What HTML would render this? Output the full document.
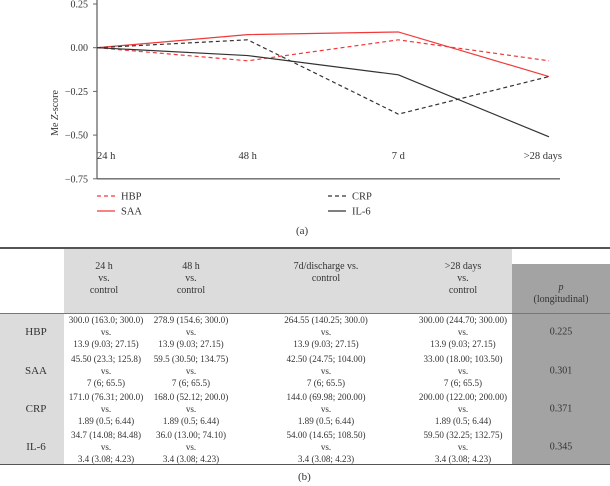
<!DOCTYPE html>
<html><head><meta charset="utf-8"><style>
body{margin:0;width:610px;height:486px;background:#fff;overflow:hidden;font-family:"Liberation Serif",serif;color:#333;position:relative}
.a{position:absolute}
.c{position:absolute;text-align:center;font-size:9.1px;line-height:12.2px;white-space:nowrap;transform:translateX(-50%)}
.h{font-size:10px;line-height:12px}
.r{position:absolute;font-size:11px;transform:translate(-50%,-50%)}
</style></head><body>
<svg class="a" style="left:0;top:0" width="610" height="240" id="chart"></svg>
<div class="a" style="left:296px;top:225px;font-size:11px">(a)</div>

<div class="a" style="left:0;top:247px;width:610px;height:1.5px;background:#555"></div>
<div class="a" style="left:64px;top:248.5px;width:448px;height:65px;background:#dcdcdc"></div>
<div class="a" style="left:0;top:314px;width:64px;height:150px;background:#dcdcdc"></div>
<div class="a" style="left:512px;top:264px;width:98px;height:200px;background:#a3a3a3"></div>
<div class="a" style="left:0;top:313px;width:610px;height:1px;background:#777"></div>
<div class="a" style="left:0;top:463.5px;width:610px;height:1.5px;background:#555"></div>

<div class="c h" style="left:104px;top:261px">24 h<br>vs.<br>control</div>
<div class="c h" style="left:191px;top:261px">48 h<br>vs.<br>control</div>
<div class="c h" style="left:326px;top:261px">7d/discharge vs.<br>control</div>
<div class="c h" style="left:463px;top:261px">&gt;28 days<br>vs.<br>control</div>
<div class="c h" style="left:561px;top:282px"><i>p</i><br>(longitudinal)</div>

<div id="rows"></div>
<div class="a" style="left:298px;top:471px;font-size:11px">(b)</div>

<script>
const categories=["24 h","48 h","7 d",">28 days"];
const yTicks=[0.25,0,-0.25,-0.5,-0.75];
const yTickLabels=["0.25","0.00","\u22120.25","\u22120.50","\u22120.75"];
const hbp=[0,-0.075,0.045,-0.075];
const saa=[0,0.075,0.09,-0.165];
const crp=[0,0.045,-0.38,-0.165];
const il6=[0,-0.045,-0.155,-0.51];

const NS="http://www.w3.org/2000/svg";
const svg=document.getElementById('chart');
const xs=i=>97+i*(549-97)/(categories.length-1);
const ys=v=>47.7-v*(43.7/0.25);
function mk(t,a){const e=document.createElementNS(NS,t);for(const k in a)e.setAttribute(k,a[k]);svg.appendChild(e);return e;}
let e=mk('line',{x1:97,y1:0,x2:97,y2:ys(-0.75),stroke:'#666','stroke-width':1.3});


e=mk('line',{x1:97,y1:ys(-0.75),x2:560,y2:ys(-0.75),stroke:'#666','stroke-width':1.3});


yTicks.forEach((v,i)=>{
  const t=mk('text',{x:88,y:ys(v)+3.5,'text-anchor':'end','font-size':10,fill:'#333','font-family':'Liberation Serif'});
  t.textContent=yTickLabels[i];
  
  
  const k=mk('line',{x1:93,y1:ys(v),x2:97,y2:ys(v),stroke:'#666'});
  
  
});
categories.forEach((c,i)=>{
  const anchor=i==0?'start':(i==categories.length-1?'end':'middle');
  const x=i==0?97:(i==categories.length-1?562:xs(i));
  const t=mk('text',{x:x,y:159,'text-anchor':anchor,'font-size':10.5,fill:'#333','font-family':'Liberation Serif'});
  t.textContent=c;
  
  
});
const yt=mk('text',{x:0,y:0,'text-anchor':'middle','font-size':10,fill:'#333','font-family':'Liberation Serif',transform:'translate(58,113) rotate(-90)'});
yt.innerHTML='Me <tspan font-style="italic">Z</tspan>-score';


const series=[["HBP",hbp,"#f03a3a","4,3"],["SAA",saa,"#f03a3a",""],["CRP",crp,"#333","4,3"],["IL-6",il6,"#333",""]];
series.forEach(s=>{
  const p=mk('polyline',{points:s[1].map((v,i)=>xs(i)+','+ys(v)).join(' '),fill:'none',stroke:s[2],'stroke-width':1.2,'stroke-dasharray':s[3]});
  
  
});
const leg=[[97,196],[97,211],[328,196],[328,211]];
series.forEach((s,i)=>{
  const [lx,ly]=leg[i];
  const l=mk('line',{x1:lx,y1:ly,x2:lx+18,y2:ly,stroke:s[2],'stroke-width':1.2,'stroke-dasharray':s[3]});
  
  
  const t=mk('text',{x:lx+24,y:ly+3.5,'font-size':10.5,fill:'#333','font-family':'Liberation Serif'});
  t.textContent=s[0];
  
  
});

const rowNames=["HBP","SAA","CRP","IL-6"];
const rowTops=[314,353,391,429];
const cells=[
 ["300.0 (163.0; 300.0)","278.9 (154.6; 300.0)","264.55 (140.25; 300.0)","300.00 (244.70; 300.00)"],
 ["45.50 (23.3; 125.8)","59.5 (30.50; 134.75)","42.50 (24.75; 104.00)","33.00 (18.00; 103.50)"],
 ["171.0 (76.31; 200.0)","168.0 (52.12; 200.0)","144.0 (69.98; 200.00)","200.00 (122.00; 200.00)"],
 ["34.7 (14.08; 84.48)","36.0 (13.00; 74.10)","54.00 (14.65; 108.50)","59.50 (32.25; 132.75)"]];
const controls=["13.9 (9.03; 27.15)","7 (6; 65.5)","1.89 (0.5; 6.44)","3.4 (3.08; 4.23)"];
const pvals=["0.225","0.301","0.371","0.345"];
const colX=[106,191,326,463];
const rows=document.getElementById('rows');
rowNames.forEach((n,r)=>{
  const top=rowTops[r];
  const lab=document.createElement('div');
  lab.className='r';lab.style.left='36px';lab.style.top=(top+18)+'px';lab.textContent=n;
  
  
  rows.appendChild(lab);
  colX.forEach((x,c)=>{
    const d=document.createElement('div');
    d.className='c';d.style.left=x+'px';d.style.top=top+'px';
    d.innerHTML=cells[r][c]+'<br>vs.<br>'+controls[r];
    
    
    rows.appendChild(d);
  });
  const p=document.createElement('div');
  p.className='r';p.style.left='561px';p.style.top=(top+18)+'px';p.style.fontSize='10px';p.textContent=pvals[r];
  
  
  rows.appendChild(p);
});
</script>
</body></html>
